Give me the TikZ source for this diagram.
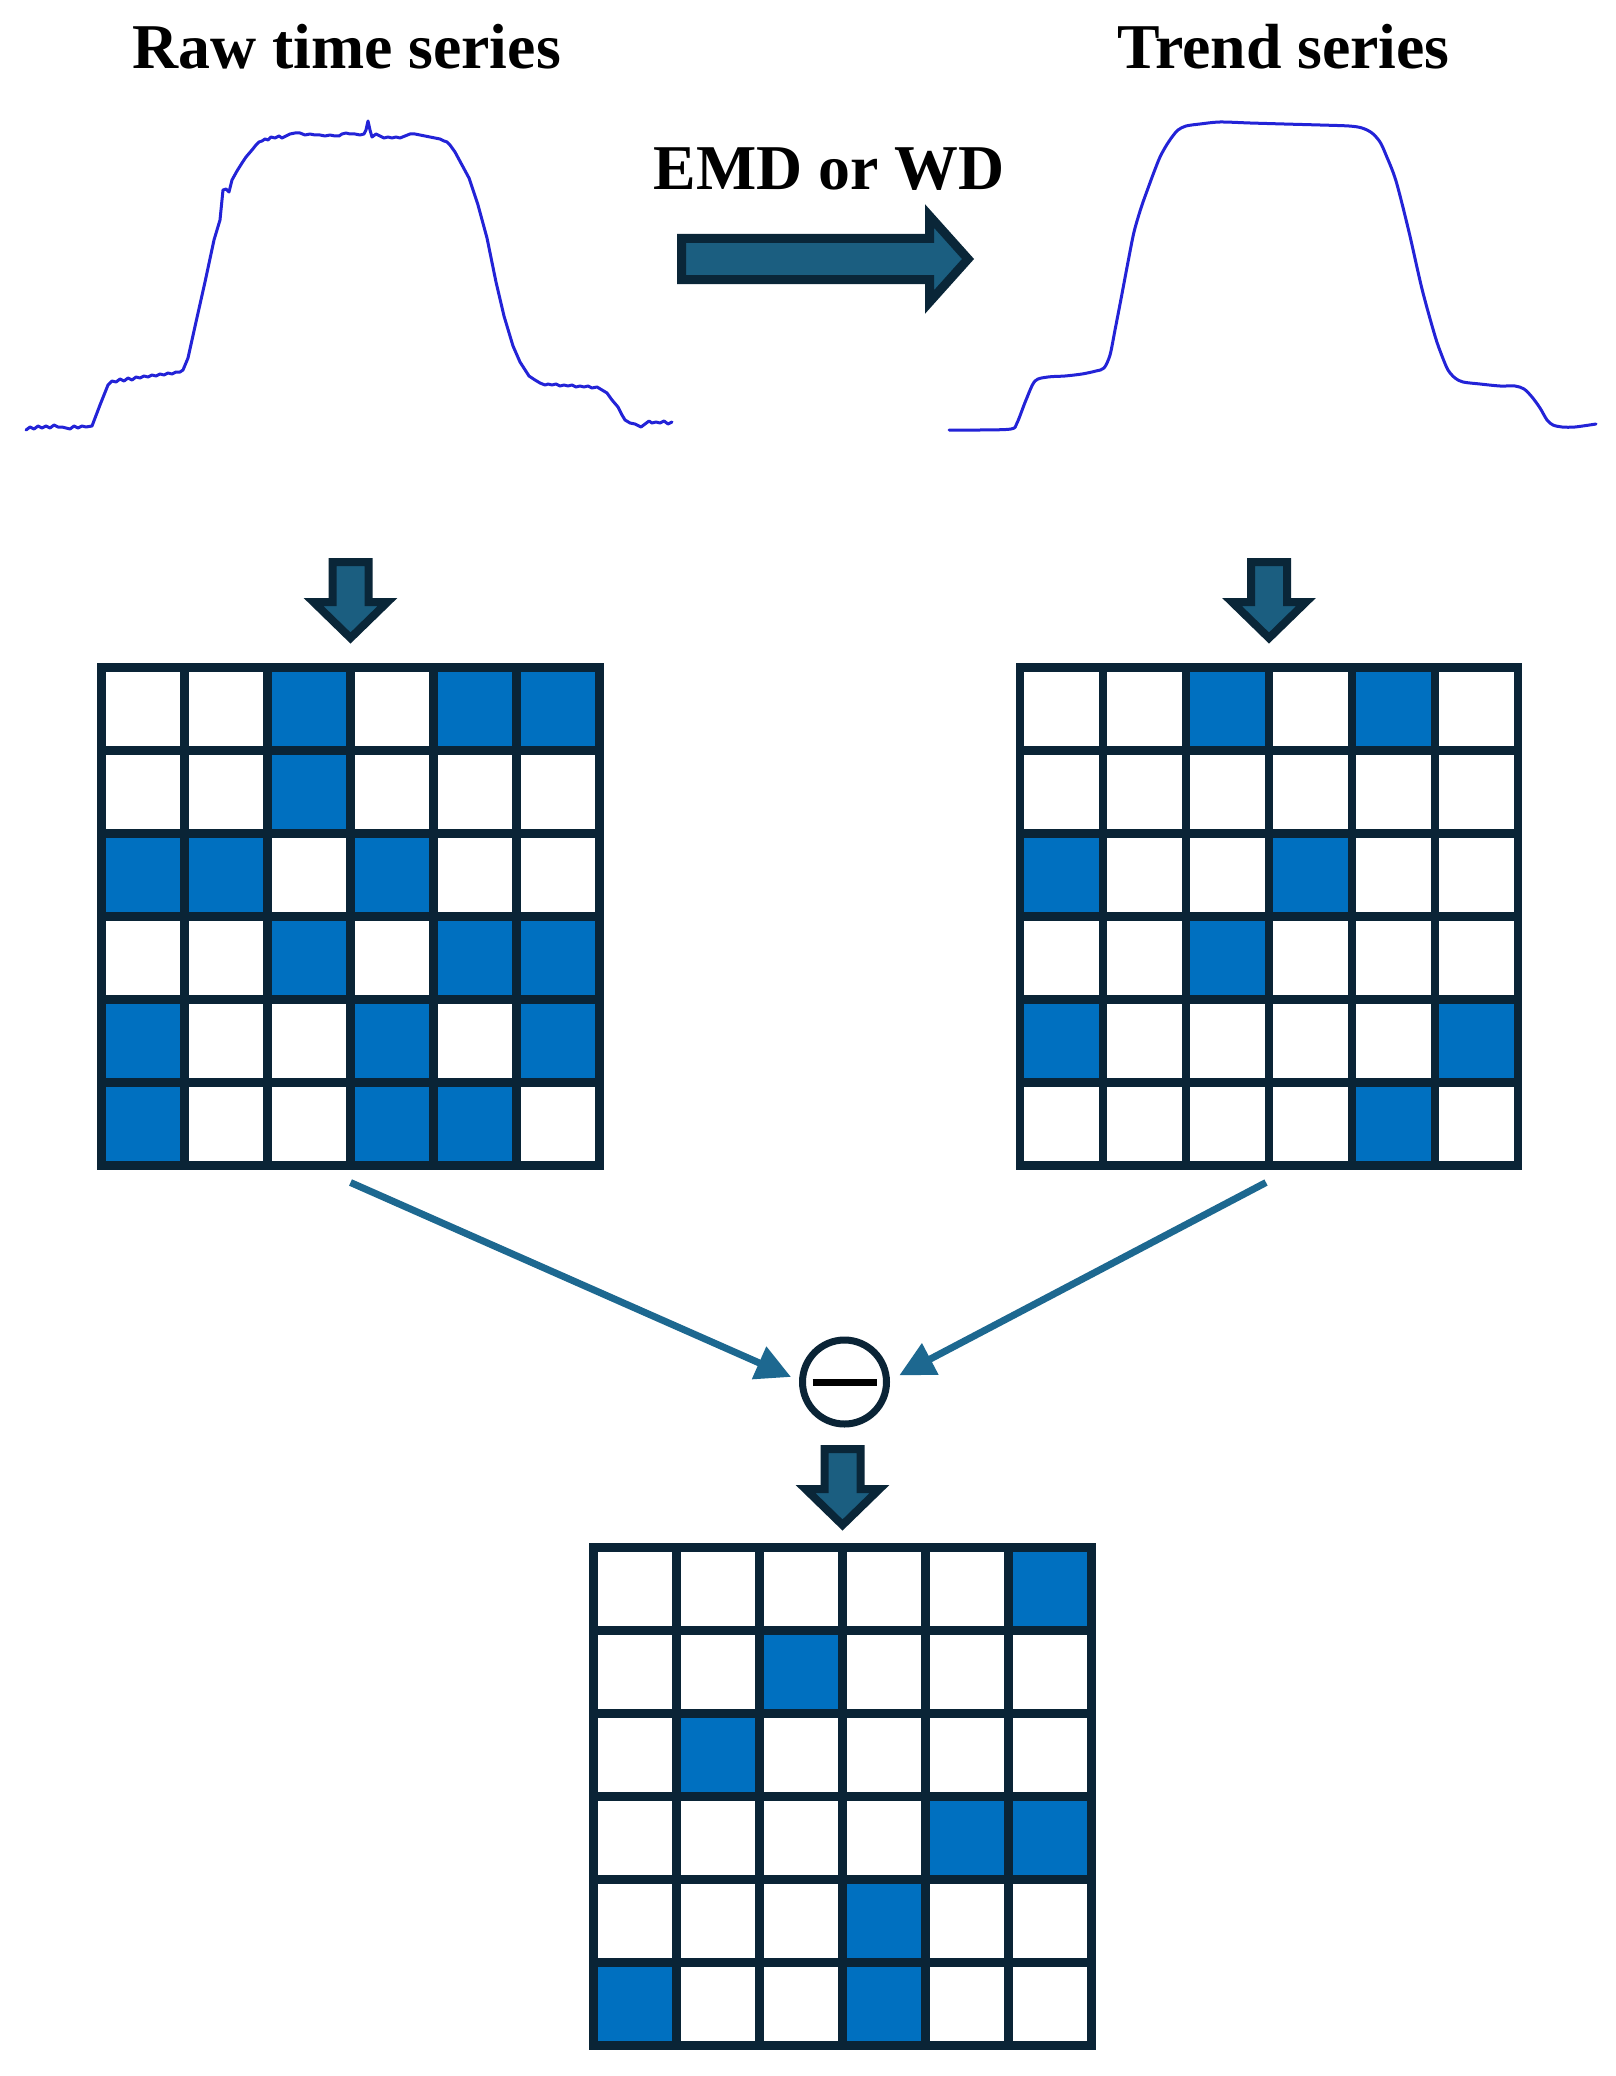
\documentclass[tikz,border=0pt]{standalone}
\usepackage{fontspec}
\setmainfont{Liberation Serif}
\usetikzlibrary{calc,arrows.meta}
\definecolor{cellblue}{HTML}{0070C0}
\definecolor{gridnavy}{HTML}{0A2436}
\definecolor{arrowfill}{HTML}{1B5E80}
\definecolor{arrowline}{HTML}{0A2638}
\definecolor{connblue}{HTML}{1D6890}
\definecolor{curveblue}{RGB}{35,35,215}
\tikzset{
  gridbox/.style={rectangle,minimum width=498pt,minimum height=498pt,inner sep=0pt,outer sep=0pt},
  gridline/.style={draw=gridnavy,line width=8.5pt},
  cellfill/.style={fill=cellblue},
  blockarrow/.style={fill=arrowfill,draw=arrowline,line width=8pt,line join=miter},
  conn/.style={draw=connblue,line width=7pt,-{Triangle[length=35pt,width=34pt]}},
  title/.style={font=\bfseries\fontsize{63.8}{70}\selectfont,anchor=base,inner sep=0pt},
  curve/.style={draw=curveblue,line width=3pt,line join=round,line cap=round},
  minusnode/.style={circle,draw=gridnavy,line width=7pt,minimum size=84pt,inner sep=0pt,outer sep=0pt,fill=white}
}
\newcommand{\mygrid}[4]{%
  \node[gridbox] (#1) at (#2,#3) {};
  \foreach \i/\j in {#4} {\fill[cellfill] ($(#1.north west)+(83*\i,83*\j)$) rectangle ++(83,83);}
  \foreach \k in {1,...,5} {%
    \draw[gridline] ($(#1.north west)+(83*\k,0)$) -- ($(#1.south west)+(83*\k,0)$);
    \draw[gridline] ($(#1.north west)+(0,83*\k)$) -- ($(#1.north east)+(0,83*\k)$);
  }
  \draw[gridline] (#1.north west) rectangle (#1.south east);
}
\newcommand{\mydownarrow}[2]{% cx, top
  \draw[blockarrow] (#1-18,#2) -- (#1+18,#2) -- (#1+18,#2+40) -- (#1+37,#2+40) -- (#1,#2+76) -- (#1-37,#2+40) -- (#1-18,#2+40) -- cycle;
}
\begin{document}
\begin{tikzpicture}[x=1pt,y=-1pt]
\useasboundingbox[fill=white] (0,0) rectangle (1615,2076);

% titles
\node[title] (rawtitle) at (346.5,69) {Raw time series};
\node[title] (trendtitle) at (1283.5,69) {Trend series};
\node[title] (emdtitle) at (829,190) {EMD or WD};

% big right arrow
\draw[blockarrow,line width=9pt] (681.5,238.5) -- (929.5,238.5) -- (929.5,216) -- (968,259) -- (929.5,302) -- (929.5,279.5) -- (681.5,279.5) -- cycle;

% raw time series
\draw[curve] plot coordinates {(26,430) (30,427) (34,429) (38,426) (42,428) (46,426) (50,428) (54,425) (58,427) (62,427) (66,428) (70,429) (74,426) (78,428) (82,426) (86,427) (92,426)
(100,405) (108,385) (112,381) (116,382) (120,379) (124,381) (128,378) (132,380) (136,377) (140,378) (144,376) (148,377) (152,375) (156,376) (160,374) (164,375) (168,373) (172,374) (176,372) (180,372) (183,370)
(188,358) (192,340) (196,322) (205,282) (214,240) (220,220) (223,190) (226,189) (229,192) (232,180) (237,171) (242,163) (246,157) (252,150) (256,145) (259,142) (262,141) (265,139) (268,140) (271,137) (275,138) (279,136) (282,138) (286,136) (290,134) (295,133) (300,133) (305,135) (310,134) (315,135) (320,135) (325,136) (330,135) (335,136) (339,136) (342,134) (346,133) (350,134) (355,134) (360,135) (364,134) (366,130) (368,121) (370,130) (372,137) (376,134) (380,136) (384,138) (388,137) (392,138) (396,137) (400,138) (405,136) (410,134) (415,134) (420,135) (425,136) (430,137) (435,138) (440,139) (444,141) (447,142) (450,145) (455,152) (462,165) (469,178) (478,205) (487,238) (496,282) (504,316) (513,346) (520,362) (529,376) (535,380) (540,383) (545,385) (548,384) (552,385) (556,384) (560,386) (564,385) (568,386) (572,385) (576,387) (580,386) (584,387) (588,386) (592,388) (597,387) (602,390) (607,393) (612,400) (618,407) (622,415) (625,420) (630,423) (635,424) (641,427) (645,424) (649,421) (652,423) (656,422) (660,423) (664,421) (668,424) (672,422)};

% trend series
\draw[curve] plot[smooth,tension=0.5] coordinates {(949,430) (980,430) (1011,429) (1017,423) (1026,400) (1035,381) (1048,377) (1065,376) (1082,374) (1096,371) (1104,368) (1110,355) (1115,330) (1121,299) (1128,262) (1134,232) (1141,208) (1147,191) (1154,172) (1160,157) (1166,146) (1172,137) (1178,130) (1186,126) (1200,124) (1220,122) (1250,123) (1284,124) (1320,125) (1349,126) (1362,128) (1372,133) (1380,142) (1386,155) (1396,181) (1409,232) (1422,289) (1435,336) (1442,356) (1448,370) (1455,378) (1463,382) (1480,384) (1500,386) (1515,386) (1524,389) (1532,397) (1540,408) (1547,420) (1553,425) (1562,427) (1575,427) (1596,424)};

% small down arrows
\mydownarrow{350.5}{562}
\mydownarrow{1269}{562}
\mydownarrow{842.5}{1449}

% grids
\mygrid{gridL}{350.5}{916.5}{2/0,4/0,5/0,2/1,0/2,1/2,3/2,2/3,4/3,5/3,0/4,3/4,5/4,0/5,3/5,4/5}
\mygrid{gridR}{1269}{916.5}{2/0,4/0,0/2,3/2,2/3,0/4,5/4,4/5}
\mygrid{gridB}{842.5}{1796.5}{5/0,2/1,1/2,4/3,5/3,3/4,0/5,3/5}

% minus operator
\node[minusnode] (minus) at (844.5,1382) {};
\draw[draw=black,line width=7pt] ($(minus.center)+(-32,0.5)$) -- ($(minus.center)+(32,0.5)$);

% connectors
\draw[conn,shorten >=12.5pt] ($(gridL.south)+(0,17)$) -- (minus.west);
\draw[conn,shorten >=14.5pt] ($(gridR.south)+(-3,17)$) -- (minus.east);
\end{tikzpicture}
\end{document}
